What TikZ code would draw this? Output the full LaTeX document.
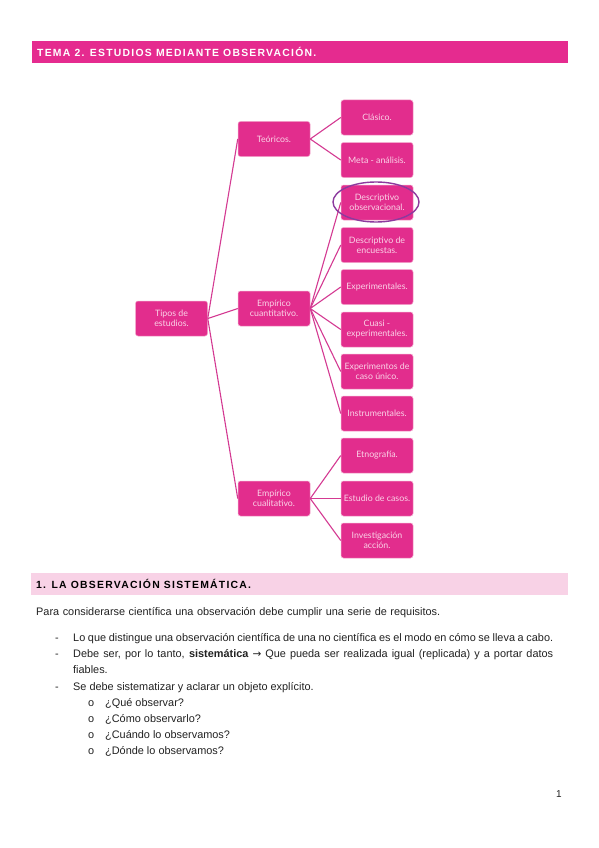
\documentclass[tikz,border=0pt]{standalone}
\usepackage{fontspec}
\setmainfont{Liberation Sans}
\newfontfamily\boxfont{Lato}
\newfontfamily\arrowfont{DejaVu Sans}
\newfontfamily\headfont[LetterSpace=12]{Liberation Sans}
\usetikzlibrary{shapes.geometric}
\definecolor{hdmag}{HTML}{E52B8F}
\definecolor{boxmag}{HTML}{E22D8D}
\definecolor{boxline}{HTML}{F3A6CC}
\definecolor{boxtext}{HTML}{FAD3E7}
\definecolor{conn}{HTML}{D43A92}
\definecolor{secpink}{HTML}{F8D2E6}
\definecolor{ellpurple}{HTML}{8C3A9E}
\definecolor{bodytext}{HTML}{222222}
\begin{document}
\begin{tikzpicture}[x=1pt,y=-1pt,
  box/.style={draw=boxline,line width=0.5pt,fill=boxmag,rounded corners=2.5pt,
    minimum width=72pt,minimum height=35pt,inner sep=1pt,align=center,
    text=boxtext,font=\boxfont\fontsize{8.8}{10}\selectfont},
  conline/.style={draw=conn,line width=1.1pt},
  bodyt/.style={anchor=base west,inner sep=0pt,font=\fontsize{10.9}{13}\selectfont,text=bodytext},
  headt/.style={anchor=west,inner sep=0pt,font=\headfont\bfseries\fontsize{10.4}{12}\selectfont}]
\useasboundingbox (0,0) rectangle (599,848);
\fill[white] (0,0) rectangle (599,848);
% header
\fill[hdmag] (32,41) rectangle (568,63);
\node[headt,text=white] (hdr) at (37,52) {TEMA 2. ESTUDIOS MEDIANTE OBSERVACIÓN.};
% diagram
\node[box] (tipos) at (171.5,318.5) {Tipos de\\estudios.};
\node[box] (teo) at (274,139) {Teóricos.};
\node[box] (cuan) at (274,308.5) {Empírico\\cuantitativo.};
\node[box] (cual) at (274,498.5) {Empírico\\cualitativo.};
\node[box] (clas) at (377,117.5) {Clásico.};
\node[box] (meta) at (377,160) {Meta - análisis.};
\node[box] (dobs) at (377,202.5) {Descriptivo\\observacional.};
\node[box] (denc) at (377,245) {Descriptivo de\\encuestas.};
\node[box] (expe) at (377,287) {Experimentales.};
\node[box] (cuasi) at (377,329.5) {Cuasi -\\experimentales.};
\node[box] (expc) at (377,371.5) {Experimentos de\\caso único.};
\node[box] (inst) at (377,413.5) {Instrumentales.};
\node[box] (etno) at (377,455.5) {Etnografía.};
\node[box] (estu) at (377,498.5) {Estudio de casos.};
\node[box] (inv) at (377,540.5) {Investigación\\acción.};
\foreach \c in {teo,cuan,cual} \draw[conline] (tipos.east) -- (\c.west);
\foreach \c in {clas,meta} \draw[conline] (teo.east) -- (\c.west);
\foreach \c in {dobs,denc,expe,cuasi,expc,inst} \draw[conline] (cuan.east) -- (\c.west);
\foreach \c in {etno,estu,inv} \draw[conline] (cual.east) -- (\c.west);
\node[draw=ellpurple,line width=1.4pt,ellipse,minimum width=86pt,minimum height=40pt,inner sep=0pt] (ell) at (376,202) {};
% section
\fill[secpink] (31,573) rectangle (568,595);
\node[headt,text=black] (sec) at (36,584) {1. LA OBSERVACIÓN SISTEMÁTICA.};
% body
\node[bodyt] (p1) at (36,615) {\makebox[404pt][s]{Para considerarse científica una observación debe cumplir una serie de requisitos.}};
\node[bodyt] (d1) at (55,641) {-};
\node[bodyt] (l1) at (73,641) {\makebox[480pt][s]{Lo que distingue una observación científica de una no científica es el modo en cómo se lleva a cabo.}};
\node[bodyt] (d2) at (55,657) {-};
\node[bodyt] (l2) at (73,657) {\makebox[480pt][s]{Debe ser, por lo tanto, \textbf{sistemática} {\arrowfont\fontsize{10.5}{11}\selectfont →} Que pueda ser realizada igual (replicada) y a portar datos}};
\node[bodyt] (l3) at (73,673) {fiables.};
\node[bodyt] (d3) at (55,690) {-};
\node[bodyt] (l4) at (73,690) {Se debe sistematizar y aclarar un objeto explícito.};
\node[bodyt] (o1) at (88,706) {o};
\node[bodyt] (q1) at (105,706) {¿Qué observar?};
\node[bodyt] (o2) at (88,722) {o};
\node[bodyt] (q2) at (105,722) {¿Cómo observarlo?};
\node[bodyt] (o3) at (88,738) {o};
\node[bodyt] (q3) at (105,738) {¿Cuándo lo observamos?};
\node[bodyt] (o4) at (88,754) {o};
\node[bodyt] (q4) at (105,754) {¿Dónde lo observamos?};
\node[bodyt,font=\fontsize{10}{12}\selectfont] (pg) at (556,797) {1};
\end{tikzpicture}
\end{document}
